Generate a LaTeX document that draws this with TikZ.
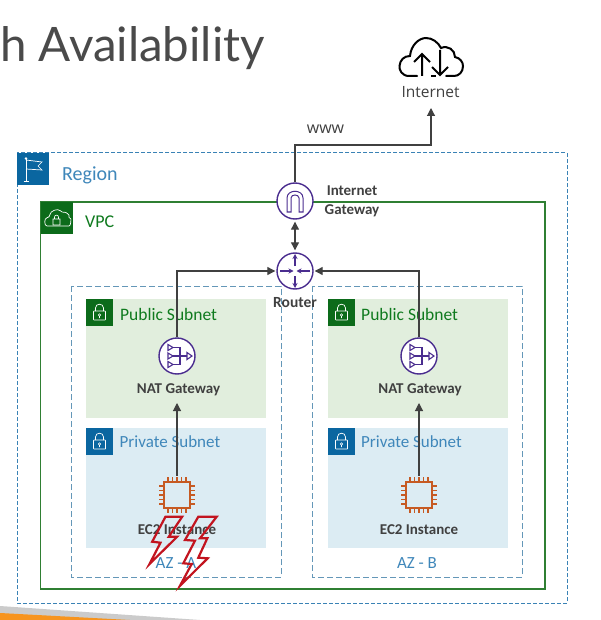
\documentclass[tikz,border=0pt]{standalone}
\usepackage{fontspec}
\setmainfont{Carlito}
\newfontfamily\titlefont{Lato}
\newfontfamily\labelfont{Open Sans}
\usetikzlibrary{arrows.meta,calc}
\definecolor{regionblue}{HTML}{3A82B5}
\definecolor{azblue}{HTML}{6497B8}
\definecolor{iconblue}{HTML}{0A66A0}
\definecolor{txtblue}{HTML}{3F87BA}
\definecolor{vpcgreen}{HTML}{2F7F33}
\definecolor{icongreen}{HTML}{0C6B1A}
\definecolor{txtgreen}{HTML}{0F7A1E}
\definecolor{pubfill}{HTML}{E1EEDD}
\definecolor{privfill}{HTML}{DCECF3}
\definecolor{purp}{HTML}{4A2D8F}
\definecolor{ec2col}{HTML}{C65A22}
\definecolor{ink}{HTML}{404040}
\definecolor{titleink}{HTML}{4A4A4A}
\definecolor{boltred}{HTML}{C2141F}
\definecolor{stripegray}{HTML}{CBCBCB}
\definecolor{stripeorange}{HTML}{F7941E}
\tikzset{
  x=1pt,y=-1pt,
  conn/.style={draw=ink,line width=1.15pt},
  arr/.style={conn,-{Triangle[length=8pt,width=8pt]}},
  biarr/.style={conn,{Triangle[length=8pt,width=8pt]}-{Triangle[length=8pt,width=8pt]}},
  regionbox/.style={draw=regionblue,line width=1pt,dash pattern=on 4pt off 2pt},
  azbox/.style={draw=azblue,line width=1pt,dash pattern=on 6pt off 3pt},
  purpcircle/.style={circle,draw=purp,line width=1.4pt,minimum size=36pt,inner sep=0pt,fill=white},
  boldlabel/.style={font=\bfseries\fontsize{15}{19}\selectfont,text=ink,inner sep=0pt,align=center},
  sublabel/.style={font=\fontsize{17}{18}\selectfont,inner sep=0pt,anchor=west},
  bolt/.style={draw=boltred,line width=2.2pt,line join=miter},
  lockpic/.pic={
    \draw[white,line width=0.7pt,rounded corners=0.5pt] (-6,-1) rectangle (6,8);
    \draw[white,line width=0.7pt] (-4,-1) -- (-4,-4) .. controls (-4,-9) and (4,-9) .. (4,-4) -- (4,-1);
    \draw[white,line width=0.6pt] (0,3) circle (1.3) (0,4.3) -- (0,6);
  }
}
\begin{document}
\begin{tikzpicture}
\useasboundingbox (0,0) rectangle (600,620);
\fill[white] (0,0) rectangle (600,620);
% footer stripes
\fill[stripegray] (0,606) -- (200,620) -- (0,620) -- cycle;
\fill[stripeorange] (0,613) -- (130,620) -- (0,620) -- cycle;
% title
\node[anchor=base west,inner sep=0pt,font=\titlefont\fontsize{47.5}{52}\selectfont,text=titleink] (title) at (0,62) {h Availability};
% containers
\draw[regionbox] (17,153) rectangle (567,603);
\node[draw=none,fill=iconblue,minimum size=32pt,inner sep=0pt] (regicon) at (33,169) {};
\draw[white,line width=0.7pt] (26,181) -- (26,159) (23.5,181) -- (29,181);
\draw[white,line width=0.7pt] (26,160) -- (42,162) -- (38,166) -- (42,170) -- (26,169);
\fill[white] (26,158.5) circle (1.3);
\node[sublabel,text=txtblue,font=\fontsize{20}{21}\selectfont] (reglabel) at (62,175) {Region};
\draw[vpcgreen,line width=1.2pt] (40.5,202) rectangle (545,589);
\node[fill=icongreen,minimum size=32pt,inner sep=0pt] (vpcicon) at (57,218) {};
\draw[white,line width=0.7pt,rounded corners=3pt] (50,226) .. controls (44,226) and (44,218) .. (50,217.5) .. controls (50,211) and (58,208) .. (62,213) .. controls (66,212) and (69,215) .. (68,218) .. controls (71,219) and (71,226) .. (66,226) -- cycle;
\draw[white,line width=0.6pt] (53,219) rectangle (60,225) (54.5,219) -- (54.5,217) .. controls (54.5,214.5) and (58.5,214.5) .. (58.5,217) -- (58.5,219);
\node[sublabel,text=txtgreen,font=\fontsize{18}{19}\selectfont] (vpclabel) at (85,222) {VPC};
\draw[azbox] (71,286) rectangle (281,577);
\draw[azbox] (312,286) rectangle (522,577);
% subnets
\fill[pubfill] (86,299) rectangle (266,418);
\fill[pubfill] (328,299) rectangle (508,418);
\fill[privfill] (86,428) rectangle (266,548);
\fill[privfill] (328,428) rectangle (508,548);
\foreach \xx in {86,328}{
  \fill[icongreen] (\xx,299) rectangle (\xx+27,326);
  \pic at (\xx+13.5,312) {lockpic};
  \fill[iconblue] (\xx,428) rectangle (\xx+27,455);
  \pic at (\xx+13.5,441) {lockpic};
}
\node[sublabel,text=txtgreen,font=\fontsize{17.5}{18}\selectfont] (pubA) at (120,314.5) {Public Subnet};
\node[sublabel,text=txtgreen,font=\fontsize{17.5}{18}\selectfont] (pubB) at (361,314.5) {Public Subnet};
\node[sublabel,text=txtblue] (privA) at (119.5,442) {Private Subnet};
\node[sublabel,text=txtblue] (privB) at (361,442) {Private Subnet};
\node[font=\fontsize{17}{18}\selectfont,text=txtblue,inner sep=0pt] (azA) at (176,563) {AZ - A};
\node[font=\fontsize{17}{18}\selectfont,text=txtblue,inner sep=0pt] (azB) at (417,563) {AZ - B};
% gateway, router, NAT nodes
\node[purpcircle] (igw) at (295,201) {};
\node[purpcircle] (router) at (295,271) {};
\node[purpcircle] (natA) at (177,356) {};
\node[purpcircle] (natB) at (419,356) {};
\draw[purp,line width=1pt] (287,212) -- (287,198) .. controls (287,189) and (303,189) .. (303,198) -- (303,212) -- (299,212) -- (299,198) .. controls (299,194) and (291,194) .. (291,198) -- (291,212) -- cycle;
\draw[purp,line width=1.1pt,-{Stealth[length=5pt,width=5pt]}] (295,266) -- (295,254);
\draw[purp,line width=1.1pt,-{Stealth[length=5pt,width=5pt]}] (295,276) -- (295,288);
\draw[purp,line width=1.1pt,-{Stealth[length=5pt,width=5pt]}] (280,271) -- (293.5,271);
\draw[purp,line width=1.1pt,-{Stealth[length=5pt,width=5pt]}] (310,271) -- (296.5,271);
\foreach \cx in {177,419}{
  \draw[purp,line width=1.1pt] (\cx-4,347.5) -- (\cx+3,347.5) -- (\cx+3,364.5) -- (\cx-4,364.5) (\cx-4,356) -- (\cx+10,356);
  \draw[purp,line width=1.1pt] (\cx-9,344.5) -- (\cx-4,347.5) -- (\cx-9,350.5) -- cycle;
  \draw[purp,line width=1.1pt] (\cx-9,353) -- (\cx-4,356) -- (\cx-9,359) -- cycle;
  \draw[purp,line width=1.1pt] (\cx-9,361.5) -- (\cx-4,364.5) -- (\cx-9,367.5) -- cycle;
  \draw[purp,line width=1.1pt] (\cx+10,352.5) -- (\cx+15,356) -- (\cx+10,359.5) -- cycle;
}
% EC2
\foreach \nm/\cx in {ec2A/177,ec2B/419}{
  \node[minimum size=38pt,inner sep=0pt] (\nm) at (\cx,495) {};
  \draw[ec2col,line width=1.5pt] (\cx-13,482) rectangle (\cx+13,508);
  \foreach \d in {-9,-4.5,0,4.5,9}{
    \draw[ec2col,line width=1.1pt] (\cx+\d,482) -- (\cx+\d,477) (\cx+\d,508) -- (\cx+\d,513)
      (\cx-13,495+\d) -- (\cx-18,495+\d) (\cx+13,495+\d) -- (\cx+18,495+\d);
  }
}
% labels
\node[boldlabel] (igwlabel) at (352,201.5) {Internet\\Gateway};
\node[boldlabel,font=\bfseries\fontsize{15.5}{17}\selectfont] (routerlabel) at (295,303) {Router};
\node[boldlabel] (natlabelA) at (178.5,390) {NAT Gateway};
\node[boldlabel] (natlabelB) at (420,390) {NAT Gateway};
\node[boldlabel] (ec2labelA) at (177,530) {EC2 Instance};
\node[boldlabel] (ec2labelB) at (419,530) {EC2 Instance};
% internet
\node[minimum width=64pt,minimum height=40pt,inner sep=0pt] (cloud) at (431,57) {};
\draw[black,line width=2pt,line cap=round] (417,76) -- (409,76) .. controls (402,76) and (399,70) .. (399.5,66) .. controls (400,60) and (404,56) .. (410,56) .. controls (411,45) and (419,38) .. (426,38) .. controls (432,38) and (438,42) .. (441,48) .. controls (448,45) and (455,50) .. (455,57) .. controls (460,58) and (463,62) .. (463,66) .. controls (463,72) and (459,76) .. (454,76) -- (446,76);
\draw[black,line width=2pt] (431,76) -- (436,76);
\draw[black,line width=2pt] (422,76) -- (422,54) (414,62) -- (422,54) -- (430,62);
\draw[black,line width=2pt] (440,50) -- (440,75) (432,67) -- (440,75) -- (448,67);
\node[font=\labelfont\fontsize{15.5}{17}\selectfont,text=ink,inner sep=0pt] (inetlabel) at (430.5,92) {Internet};
\node[font=\labelfont\fontsize{16}{18}\selectfont,text=ink,inner sep=0pt] (www) at (325.5,129.5) {www};
% connectors
\coordinate (bend) at (295,145);
\coordinate (inetin) at (431,108);
\coordinate (natAin) at (177,403);
\coordinate (natBin) at (419,403);
\draw[arr] (igw.north) -- (bend) -| (inetin);
\draw[biarr] ($(igw.south)+(0,2)$) -- ($(router.north)+(0,-2)$);
\draw[arr] (natA.north) |- ($(router.west)+(-1,0)$);
\draw[arr] (natB.north) |- ($(router.east)+(1,0)$);
\draw[arr] (ec2A.north) -- (natAin);
\draw[arr] (ec2B.north) -- (natBin);
% lightning
\draw[bolt] (165.5,516.7) -- (152.2,541.7) -- (160.5,542.7) -- (149.5,564) -- (177.2,536.7) -- (168.8,536.7) -- (182.2,516.7) -- cycle;
\draw[bolt] (198.3,516.7) -- (185,540) -- (195,540.7) -- (183.3,563.3) -- (191.7,564) -- (180,585.7) -- (207.7,558.3) -- (198.3,557.7) -- (207.3,538.3) -- (200,538.3) -- (216.7,516.7) -- cycle;
\end{tikzpicture}
\end{document}
